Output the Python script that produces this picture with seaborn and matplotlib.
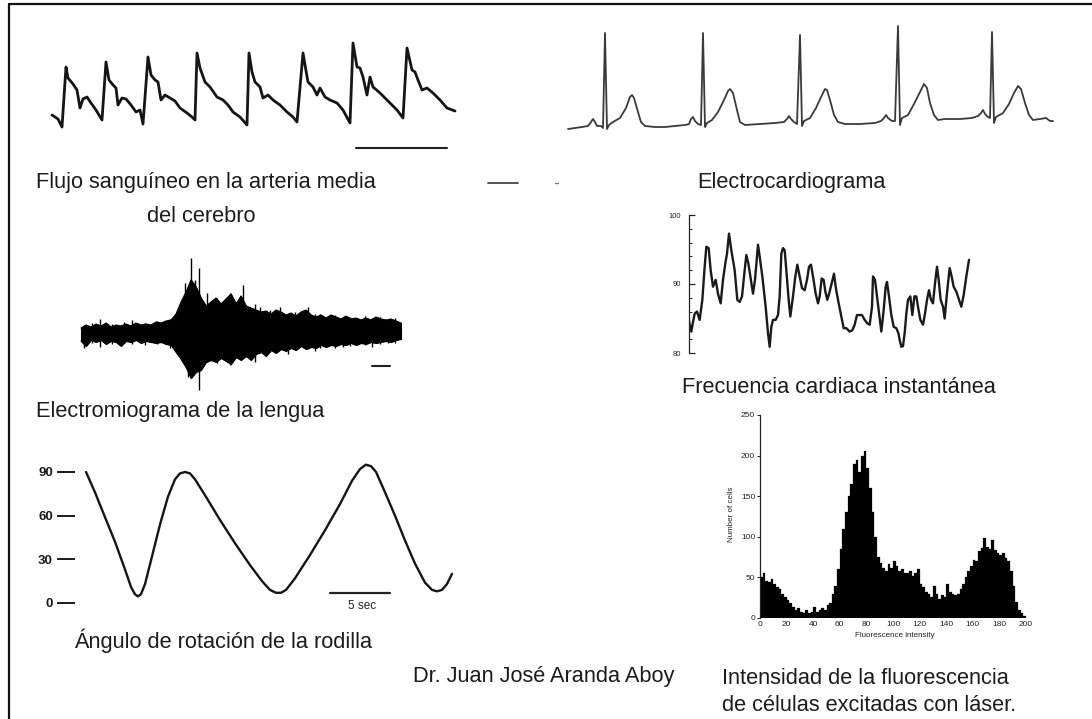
import numpy as np
import pandas as pd
import matplotlib
matplotlib.use("Agg")
import matplotlib.pyplot as plt
import seaborn as sns
from matplotlib.lines import Line2D

# ---------------- data ----------------
# 1) Cerebral artery blood flow (arbitrary units vs time units)
flow_t = [52, 58, 62, 66, 68, 73, 77, 80, 83, 87, 91, 96, 102,
          106, 109, 113, 116, 118, 122, 126, 131, 136, 140, 143,
          148, 151, 155, 158, 161, 165, 170, 175, 180, 187, 192, 195,
          197, 200, 205, 210, 217, 223, 228, 233, 240, 247,
          249, 252, 255, 260, 263, 268, 273, 280, 287, 293, 297,
          303, 305, 308, 313, 317, 320, 325, 330, 337, 343, 350,
          353, 357, 360, 363, 367, 370, 373, 380, 387, 397, 403,
          407, 412, 415, 418, 422, 427, 433, 440, 447, 455]
flow_v = [15, 11, 3, 63, 52, 46, 40, 22, 31, 33, 27, 20, 10,
          68, 50, 45, 42, 25, 32, 31, 25, 18, 20, 6,
          73, 55, 50, 48, 30, 35, 32, 29, 22, 17, 13, 10,
          77, 62, 48, 43, 33, 30, 25, 18, 13, 5,
          77, 58, 48, 43, 32, 35, 30, 25, 18, 13, 8,
          77, 65, 48, 43, 35, 42, 33, 30, 27, 20, 7,
          87, 63, 62, 53, 35, 53, 43, 37, 30, 20, 12,
          82, 60, 58, 50, 40, 42, 37, 30, 22, 19]

# 2) Electrocardiogram
ecg_t = [568, 575, 582, 588, 591, 593, 595, 597, 601, 603, 605, 607, 609, 613, 620, 626, 630, 632, 634, 638, 641, 645, 655, 665, 675, 685,
         689, 691, 693, 695, 698, 701, 703, 705, 707, 712, 718, 724, 728, 730, 733, 737, 740, 745, 760, 775, 784,
         787, 789, 791, 794, 797, 800, 802, 804, 810, 816, 822, 825, 827, 830, 834, 838, 845, 860, 875, 881,
         884, 886, 888, 892, 895, 898, 900, 902, 908, 914, 920, 924, 927, 930, 934, 938, 945, 960, 972, 978,
         981, 983, 985, 988, 990, 992, 994, 996, 1003, 1009, 1014, 1018, 1021, 1025, 1029, 1033, 1040, 1046, 1050, 1053]
ecg_v = [1, 2, 3, 4, 8, 11, 8, 4, 4, 2, 97, 1, 5, 8, 12, 22, 33, 35, 32, 18, 8, 4, 3, 3, 4, 5,
         6, 11, 13, 9, 6, 5, 97, 3, 7, 10, 18, 30, 39, 41, 37, 20, 8, 5, 6, 7, 8,
         11, 14, 11, 8, 6, 95, 4, 9, 12, 22, 35, 41, 40, 30, 15, 8, 6, 6, 7, 9,
         12, 15, 12, 9, 9, 104, 5, 12, 15, 26, 38, 46, 42, 27, 15, 10, 11, 11, 12, 14,
         17, 20, 16, 13, 12, 98, 7, 13, 17, 26, 37, 44, 41, 27, 15, 10, 11, 12, 9, 9]

# 3) Tongue electromyogram: envelope of the signal plus its tallest spikes
emg_t = list(range(81, 402, 5))
emg_hi = [4, 7, 5, 8, 6, 9, 5, 7, 6, 8, 6, 9, 7, 8, 7, 10, 9, 11, 12, 18, 30, 40, 52, 45, 34, 26, 30, 34, 28, 33,
          38, 28, 36, 26, 24, 22, 20, 21, 18, 22, 20, 17, 19, 16, 20, 22, 17, 15, 17, 14, 17, 15, 13, 16, 13,
          14, 12, 14, 12, 15, 13, 12, 13, 11, 9]
emg_lo = [-9, -14, -8, -10, -8, -12, -9, -10, -14, -9, -10, -8, -11, -9, -10, -11, -10, -12, -13, -20, -27, -35,
          -46, -40, -38, -30, -28, -30, -26, -29, -32, -25, -28, -24, -28, -22, -20, -24, -18, -21, -17, -19, -16,
          -18, -14, -17, -15, -16, -13, -15, -13, -14, -12, -13, -11, -13, -11, -12, -10, -11, -10, -9, -10, -8, -7]
emg_spk_t = [84, 92, 100, 112, 124, 132, 145, 157, 170, 178, 185, 188, 191, 195, 199, 203, 207, 212, 217, 223,
             230, 236, 243, 250, 255, 260, 270, 280, 288, 295, 308, 315, 320, 335, 343, 350, 365, 372, 380, 388, 395]
emg_spk_hi = [6, 9, 13, 8, 10, 12, 9, 11, 13, 24, 49, 40, 74, 52, 64, 30, 39, 30, 34, 30,
              39, 30, 47, 25, 28, 25, 22, 25, 18, 20, 25, 18, 18, 17, 15, 15, 16, 14, 15, 13, 14]
emg_spk_lo = [-16, -11, -15, -12, -11, -12, -13, -12, -16, -22, -30, -45, -46, -35, -58, -33, -30, -28, -31, -27,
              -33, -26, -25, -24, -30, -21, -20, -18, -22, -18, -17, -19, -16, -16, -15, -14, -13, -15, -12, -11, -11]

# 4) Instantaneous heart rate (beats/min)
hr_t = [145, 150, 155, 160, 165, 172, 180, 188, 195, 200, 207, 213, 220, 228, 235, 243, 250, 257, 262, 268,
        275, 285, 293, 300, 307, 315, 320, 326, 332, 340, 346, 355, 360, 368, 378, 385, 390, 395, 400, 408,
        415, 420, 425, 430, 435, 440, 447, 452, 460, 467, 473, 480, 487, 495, 502, 508, 514, 520, 528, 535,
        540, 546, 552, 557, 563, 570, 576, 583, 588, 595, 605, 612, 620, 630, 638, 645, 652, 660, 667, 675,
        683, 690, 697, 700, 706, 712, 718, 725, 732, 738, 742, 748, 755, 762, 770, 776, 780, 785, 790, 795,
        800, 805, 812, 818, 824, 830, 835, 842, 850, 856, 862, 868, 874, 880, 886, 892, 897, 903, 910, 915,
        920, 925, 930, 935, 942, 950, 958, 965, 972, 980, 988]
hr_v = [85.5, 84.1, 83.1, 84.5, 85.7, 86.0, 84.8, 87.7, 92.5, 95.4, 95.2, 92.0, 89.6, 90.6, 88.6, 87.2, 90.6, 93.0, 94.4, 97.3,
        94.9, 92.0, 87.7, 87.4, 88.2, 92.0, 94.2, 93.0, 91.1, 88.6, 90.6, 95.7, 94.0, 91.1, 86.7, 82.9, 80.9, 83.8, 84.8, 84.8,
        85.5, 88.2, 94.4, 95.2, 94.9, 92.0, 87.7, 85.3, 88.2, 91.1, 92.8, 91.1, 89.4, 89.1, 90.6, 92.5, 92.8, 91.1, 88.6, 87.2,
        88.2, 90.8, 90.6, 88.9, 87.7, 88.9, 90.1, 91.5, 89.6, 87.7, 85.3, 83.6, 83.6, 83.1, 83.3, 84.1, 85.5, 85.5, 85.5, 84.8,
        84.3, 84.1, 86.7, 91.1, 90.6, 88.2, 85.7, 83.1, 86.2, 89.6, 90.3, 88.2, 85.5, 83.8, 83.6, 82.9, 81.9, 80.9, 81.0, 82.9,
        85.7, 87.7, 88.2, 85.5, 88.2, 88.2, 86.7, 84.8, 84.1, 85.7, 87.7, 89.1, 87.7, 87.2, 90.1, 92.5, 90.6, 87.7, 86.7, 85.0,
        87.7, 90.1, 92.3, 91.3, 89.6, 88.9, 87.7, 86.7, 88.4, 91.1, 93.5]
hr_ticks = [80, 90, 100]

# 5) Knee rotation angle (degrees vs seconds)
knee_t = [0, 0.75, 1.58, 2.42, 3.25, 3.75, 4.08, 4.33, 4.58, 4.92, 5.5, 6.17, 6.83, 7.42, 7.83, 8.25, 8.67, 9.08,
          9.92, 11.17, 12.42, 13.67, 14.67, 15.33, 15.83, 16.25, 16.67, 17.42, 18.67, 19.92, 21.17, 22.17, 22.83,
          23.33, 23.75, 24.17, 24.92, 25.75, 26.58, 27.42, 28.25, 28.83, 29.25, 29.67, 30.08, 30.5]
knee_deg = [90, 76, 59, 42, 23, 11, 6, 4.5, 6, 13, 32, 54, 73, 85, 89, 90, 89, 85,
            74, 57, 41, 26, 15, 9, 7, 7, 9, 17, 33, 50, 68, 84, 92,
            95, 94, 90, 76, 60, 43, 27, 14, 9, 8, 9, 13, 20]
knee_ticks = [0, 30, 60, 90]

# 6) Fluorescence intensity histogram (bins of width 2)
fl_bins = list(range(0, 200, 2))
fl_counts = [50, 55, 45, 44, 48, 42, 38, 36, 30, 26,
             22, 18, 14, 10, 12, 8, 6, 10, 6, 8,
             14, 8, 10, 12, 10, 16, 18, 30, 40, 60,
             85, 110, 130, 150, 165, 190, 195, 180, 200, 205,
             185, 160, 130, 100, 75, 68, 62, 58, 66, 62,
             70, 64, 58, 60, 55, 56, 58, 52, 55, 60,
             42, 38, 32, 30, 26, 40, 30, 24, 28, 26,
             42, 32, 30, 28, 30, 36, 42, 50, 58, 64,
             72, 70, 82, 86, 98, 88, 85, 96, 84, 80,
             78, 80, 74, 70, 58, 40, 20, 10, 6, 2]

labels = {
    "flow1": "Flujo sanguíneo en la arteria media",
    "flow2": "del cerebro",
    "ecg": "Electrocardiograma",
    "emg": "Electromiograma de la lengua",
    "hr": "Frecuencia cardiaca instantánea",
    "knee": "Ángulo de rotación de la rodilla",
    "author": "Dr. Juan José Aranda Aboy",
    "fl1": "Intensidad de la fluorescencia",
    "fl2": "de células excitadas con láser.",
}

# ---------------- figure ----------------
sns.set_style("white")
plt.rcParams["font.family"] = ["Liberation Sans", "DejaVu Sans"]

W, H = 1092, 719
fig = plt.figure(figsize=(W / 100, H / 100), dpi=100)
fig.patch.set_facecolor("white")


def box(x0, y0, x1, y1):
    ax = fig.add_axes([x0 / W, 1 - y1 / H, (x1 - x0) / W, (y1 - y0) / H])
    ax.set_facecolor("none")
    return ax


def ftext(x, yb, s, **kw):
    fig.text(x / W, 1 - yb / H, s, ha="left", va="baseline", fontsize=15.7, color="#1c1c1c", **kw)


# frame (left + top)
fig.add_artist(Line2D([9 / W, 9 / W], [0, 1 - 4 / H], transform=fig.transFigure, color="#111", lw=1.6))
fig.add_artist(Line2D([9 / W, 1], [1 - 4 / H, 1 - 4 / H], transform=fig.transFigure, color="#111", lw=1.6))

# 1) blood flow
ax1 = box(40, 30, 470, 160)
sns.lineplot(x=flow_t, y=flow_v, ax=ax1, color="#151515", linewidth=2.0, sort=False, estimator=None)
ax1.plot([356, 447], [-18, -18], color="#222", lw=1.5)
ax1.set_xlim(40, 470)
ax1.set_ylim(-30, 100)
ax1.axis("off")

# 2) ECG
ax2 = box(560, 20, 1070, 140)
sns.lineplot(x=ecg_t, y=ecg_v, ax=ax2, color="#3a3a3a", linewidth=1.3, sort=False, estimator=None)
ax2.set_xlim(560, 1070)
ax2.set_ylim(-10, 110)
ax2.axis("off")

# stray scale marks between panels
fig.add_artist(Line2D([488 / W, 518 / W], [1 - 183 / H] * 2, transform=fig.transFigure, color="#444", lw=1.3))
fig.add_artist(Line2D([555 / W, 558 / W], [1 - 183 / H] * 2, transform=fig.transFigure, color="#777", lw=1.0))

# 3) EMG
ax3 = box(60, 250, 420, 400)
ax3.fill_between(emg_t, emg_lo, emg_hi, color="black", lw=0.8)
sns.lineplot(x=emg_t, y=emg_hi, ax=ax3, color="black", linewidth=0.8, estimator=None)
sns.lineplot(x=emg_t, y=emg_lo, ax=ax3, color="black", linewidth=0.8, estimator=None)
ax3.vlines(emg_spk_t, emg_spk_lo, emg_spk_hi, color="black", lw=1.0)
ax3.plot([372, 390], [-34, -34], color="#222", lw=1.5)
ax3.set_xlim(60, 420)
ax3.set_ylim(-68, 82)
ax3.axis("off")

# 4) heart rate
ax4 = box(689, 210, 980, 358)
sns.lineplot(x=hr_t, y=hr_v, ax=ax4, color="#1a1a1a", linewidth=1.7, sort=False, estimator=None)
ax4.set_xlim(148, 148 + (980 - 689) * 3)
ax4.set_ylim(80 - 5 / 6.9, 100 + 5 / 6.9)
for s in ["top", "right", "bottom"]:
    ax4.spines[s].set_visible(False)
ax4.spines["left"].set_bounds(80, 100)
ax4.spines["left"].set_color("#222")
ax4.spines["left"].set_linewidth(0.9)
ax4.set_yticks(hr_ticks)
ax4.set_yticks(np.arange(80, 101, 2), minor=True)
ax4.set_yticklabels([str(v) for v in hr_ticks])
ax4.tick_params(axis="y", which="major", direction="in", length=4, width=0.9, labelsize=5.5, pad=6, colors="#222", left=True)
ax4.tick_params(axis="y", which="minor", direction="in", length=2, width=0.7, left=True, colors="#222")
ax4.set_xticks([])
ax4.set_xlabel("")
ax4.set_ylabel("")

# 5) knee angle
ax5 = box(40, 450, 470, 620)
sns.lineplot(x=knee_t, y=knee_deg, ax=ax5, color="#151515", linewidth=1.7, sort=False, estimator=None)
ax5.set_xlim((40 - 86) / 12, (470 - 86) / 12)
ax5.set_ylim(-11.7, 105.1)
for s in ["top", "right", "bottom"]:
    ax5.spines[s].set_visible(False)
ax5.spines["left"].set_position(("data", (75 - 86) / 12))
ax5.spines["left"].set_visible(False)
ax5.set_yticks(knee_ticks)
ax5.set_yticklabels([str(v) for v in knee_ticks], fontweight="bold")
ax5.tick_params(axis="y", direction="out", length=13, width=1.4, labelsize=9.5, pad=3, colors="#1a1a1a", left=True)
ax5.set_xticks([])
ax5.set_xlabel("")
ax5.set_ylabel("")
ax5.plot([(330 - 86) / 12, (390 - 86) / 12], [6.9, 6.9], color="#222", lw=1.6)
ax5.text((362 - 86) / 12, -1.8, "5 sec", ha="center", va="center", fontsize=8.5, color="#222")

# 6) fluorescence histogram
ax6 = box(760, 410, 1030, 618)
fl_df = pd.DataFrame({"intensity": [b + 1.0 for b in fl_bins], "count": [float(c) for c in fl_counts]})
sns.histplot(data=fl_df, x="intensity", weights="count", binwidth=2, binrange=(0, 200), ax=ax6,
             color="black", alpha=1, edgecolor="black", lw=0.3)
ax6.set_xlim(0, 203)
ax6.set_ylim(0, 256)
for s in ["top", "right", "bottom"]:
    ax6.spines[s].set_visible(False)
ax6.spines["left"].set_bounds(0, 250)
ax6.spines["left"].set_color("#222")
ax6.spines["left"].set_linewidth(0.9)
ax6.set_yticks(np.arange(0, 251, 50))
ax6.set_xticks(np.arange(0, 201, 20))
ax6.tick_params(axis="y", direction="out", length=2, width=0.7, labelsize=6, pad=1.5, colors="#222", left=True)
ax6.tick_params(axis="x", length=0, labelsize=6, pad=2, colors="#222")
ax6.set_xlabel("Fluorescence intensity", fontsize=5.8, labelpad=3, color="#222")
ax6.set_ylabel("Number of cells", fontsize=5.8, labelpad=4, color="#222")

# captions
ftext(36, 188, labels["flow1"])
ftext(147, 222, labels["flow2"])
ftext(697, 188, labels["ecg"])
ftext(36, 417, labels["emg"])
ftext(682, 393, labels["hr"])
ftext(74, 648, labels["knee"])
ftext(413, 682, labels["author"])
ftext(722, 684, labels["fl1"])
ftext(722, 711, labels["fl2"])

fig.savefig("out.png", dpi=100, facecolor="white")
